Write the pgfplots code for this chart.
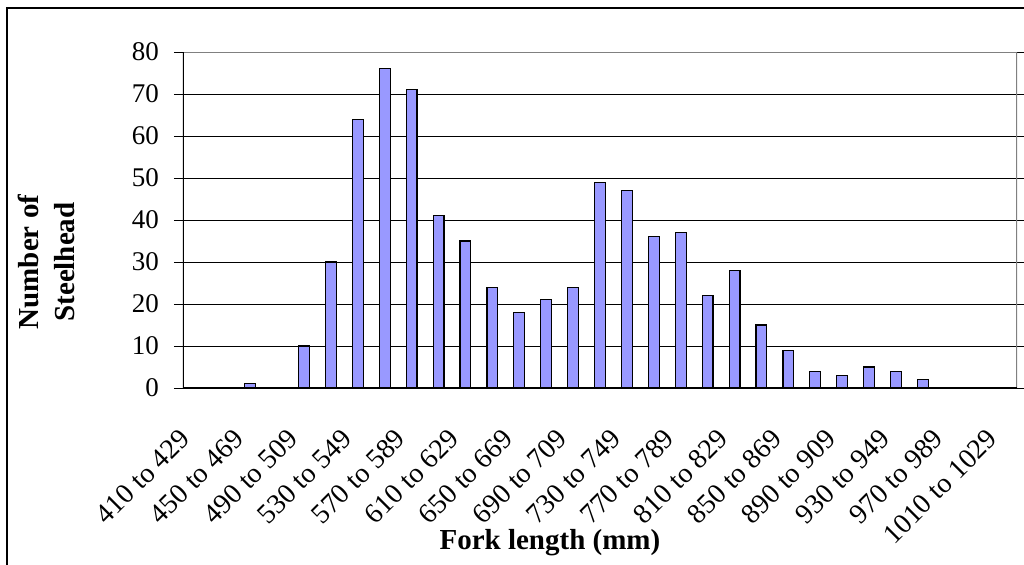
\documentclass[border=0pt]{standalone}
\usepackage{fontspec}
\setmainfont{Liberation Serif}
\usepackage{pgfplots}
\pgfplotsset{compat=1.18}
\definecolor{barfill}{RGB}{153,153,255}
\definecolor{frameg}{RGB}{128,128,128}
\begin{document}
\begin{tikzpicture}
\begin{pgfinterruptboundingbox}
\begin{axis}[
  scale only axis, width=417bp, height=168bp,
  ybar, bar width=5.4bp,
  xmin=-0.5, xmax=30.5, ymin=0, ymax=80,
  xtick={0,2,...,30},
  xticklabels={410 to 429,450 to 469,490 to 509,530 to 549,570 to 589,610 to 629,650 to 669,690 to 709,730 to 749,770 to 789,810 to 829,850 to 869,890 to 909,930 to 949,970 to 989,1010 to 1029},
  minor xtick={-0.5,0.5,...,30.5},
  xtick style={draw=none},
  minor x tick style={black, line width=0.5bp},
  ytick={0,10,...,80},
  ytick style={black, line width=0.5bp},
  tick align=outside,
  major tick length=4.5bp, minor tick length=4.5bp,
  ymajorgrids, grid style={black, line width=0.5bp},
  axis line style={draw=none},
  /pgf/number format/assume math mode=true,
  yticklabel style={font=\fontsize{13.5bp}{16bp}\selectfont},
  xticklabel style={font=\fontsize{14bp}{16bp}\selectfont, inner sep=0pt, xshift=-9bp, yshift=-15bp, rotate=45, anchor=north east},
  yticklabel shift=4bp,
  xlabel={Fork length (mm)},
  xlabel style={at={(axis description cs:0.44,-0.461)}, anchor=center, font=\fontsize{14.5bp}{17bp}\selectfont\bfseries},
  ylabel={Number of\\Steelhead},
  ylabel style={at={(axis description cs:-0.164,0.375)}, anchor=center, rotate=0, align=center, font=\fontsize{14.5bp}{18bp}\selectfont\bfseries},
]
\addplot[fill=barfill, draw=black, line width=0.6bp] coordinates {
(0,0) (1,0) (2,1) (3,0) (4,10) (5,30) (6,64) (7,76) (8,71) (9,41)
(10,35) (11,24) (12,18) (13,21) (14,24) (15,49) (16,47) (17,36) (18,37) (19,22)
(20,28) (21,15) (22,9) (23,4) (24,3) (25,5) (26,4) (27,2) (28,0) (29,0) (30,0)
};
\draw[frameg, line width=0.8bp] (rel axis cs:0,1) -- (rel axis cs:1,1) -- (rel axis cs:1,0);
\draw[black, line width=0.6bp] (rel axis cs:0,1) -- (rel axis cs:0,0) -- (rel axis cs:1,0);
\coordinate (SW) at (rel axis cs:0,0);
\end{axis}
\end{pgfinterruptboundingbox}
\useasboundingbox ([shift={(-91.5bp,-88.5bp)}]SW) rectangle ([shift={(420.5bp,194bp)}]SW);
\draw[line width=1bp] ([shift={(-88bp,-120bp)}]SW) -- ([shift={(-88bp,190bp)}]SW) -- ([shift={(440bp,190bp)}]SW);
\end{tikzpicture}
\end{document}
